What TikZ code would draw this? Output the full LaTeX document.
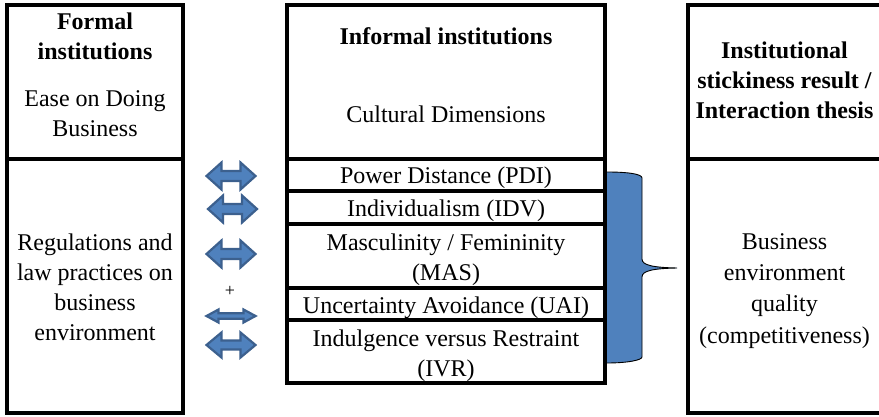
\documentclass[tikz,border=0pt]{standalone}
\usepackage{fontspec}
\setmainfont{Liberation Serif}
\newcommand{\lines}[1]{\setlength{\tabcolsep}{0pt}\begin{tabular}{c}#1\end{tabular}}
\begin{document}
\begin{tikzpicture}[x=1pt,y=-1pt,
  frm/.style={draw=black, line width=3.5pt},
  txt/.style={inner sep=0pt, font=\fontsize{24}{30}\selectfont},
  hd/.style={inner sep=0pt, font=\fontsize{24}{30}\selectfont\bfseries},
  arrowshape/.style={fill={rgb,255:red,79;green,129;blue,189}, draw={rgb,255:red,60;green,96;blue,142}, line width=2.2pt, line join=miter},
  bracefill/.style={fill={rgb,255:red,79;green,129;blue,189}, draw=none},
  braceline/.style={draw=black, line width=0.9pt},
  pics/dbl/.style n args={3}{code={
    \filldraw[arrowshape] (-24.5,0) -- (-24.5+#3,-#1) -- (-24.5+#3,-#2) -- (24.5-#3,-#2)
      -- (24.5-#3,-#1) -- (24.5,0) -- (24.5-#3,#1) -- (24.5-#3,#2) -- (-24.5+#3,#2)
      -- (-24.5+#3,#1) -- cycle;}}]
\useasboundingbox (0,0) rectangle (879,417);

% texts
\node[txt] (ease) at (95,116) {\lines{Ease on Doing\\Business}};
\node[txt] (regs) at (95,289) {\lines{Regulations and\\law practices on\\business\\environment}};
\node[txt, anchor=base] (cult) at (446,123) {Cultural Dimensions};
\node[txt, anchor=base] (pdi) at (446,184) {Power Distance (PDI)};
\node[txt, anchor=base] (idv) at (446,217) {Individualism (IDV)};
\node[txt] (mas) at (446,259) {\lines{Masculinity / Femininity\\(MAS)}};
\node[txt, anchor=base] (uai) at (446,313) {Uncertainty Avoidance (UAI)};
\node[txt] (ivr) at (446,355.5) {\lines{Indulgence versus Restraint\\(IVR)}};
\node[inner sep=0pt, font=\fontsize{24}{31.3}\selectfont] (qual) at (784.5,289.8) {\lines{Business\\environment\\quality\\(competitiveness)}};
\node[inner sep=0pt, font=\fontsize{18}{18}\selectfont] (plus) at (230,291) {+};

% headings
\node[hd] (formal) at (95,39) {\lines{Formal\\institutions}};
\node[hd, anchor=base] (informal) at (446,45) {Informal institutions};
\node[hd] (stick) at (784.5,82.5) {\lines{Institutional\\stickiness result /\\Interaction thesis}};

% frames
\draw[frm] (7,5) rectangle (183,413);
\draw[frm] (7,159) -- (183,159);
\draw[frm] (287,5) rectangle (605,383);
\foreach \yy in {159,191,224,288,320} \draw[frm] (287,\yy) -- (605,\yy);
\draw[frm] (688,5) rectangle (882,413);
\draw[frm] (688,159) -- (882,159);

% double arrows
\pic at (231,176) {dbl={13.5}{5}{15}};
\pic at (232.5,209) {dbl={13.5}{5}{15}};
\pic at (231,254) {dbl={13.5}{5}{15}};
\pic at (231,316) {dbl={6.5}{2.8}{12}};
\pic at (231,345) {dbl={12.5}{4.5}{15}};

% brace
\fill[bracefill] (607,172) .. controls (628,172) and (642,174) .. (642,178)
  -- (642,259) .. controls (642,265) and (652,267.5) .. (677,268)
  .. controls (652,268.5) and (642,271) .. (642,277)
  -- (642,357) .. controls (642,360) and (628,363) .. (607,363) -- cycle;
\draw[braceline] (607,172) .. controls (628,172) and (642,174) .. (642,178)
  -- (642,259) .. controls (642,265) and (652,267.5) .. (677,268)
  .. controls (652,268.5) and (642,271) .. (642,277)
  -- (642,357) .. controls (642,360) and (628,363) .. (607,363);
\end{tikzpicture}
\end{document}
